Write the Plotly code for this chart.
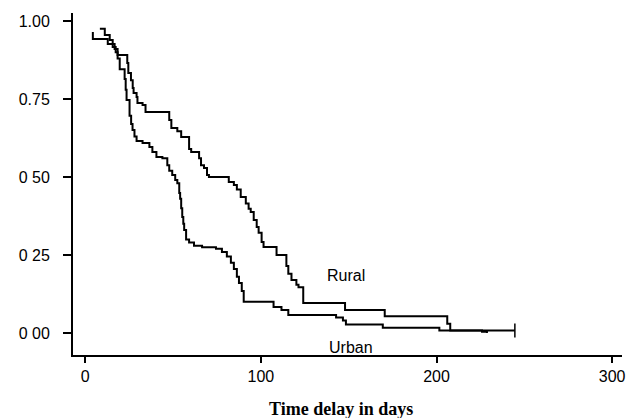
import plotly.graph_objects as go

# Kaplan-Meier style step data (time in days, proportion)
rural_t = [4.3, 4.3, 12.8, 16.7, 18.4, 23.9, 24.5, 26.0, 27.0, 27.5, 29.2, 29.7, 32.6, 34.3,
           47.8, 49.0, 52.4, 54.6, 59.1, 60.3, 64.8, 65.9, 67.6, 69.3, 70.4, 81.7, 84.6,
           86.3, 88.5, 91.4, 93.0, 94.2, 95.9, 97.6, 98.7, 100.4, 101.5, 108.9, 114.5,
           115.6, 117.4, 120.2, 121.4, 124.1, 147.9, 170.5, 206.1, 207.8, 244.6]
rural_s = [0.965, 0.942, 0.926, 0.910, 0.891, 0.865, 0.833, 0.81, 0.785, 0.769, 0.756, 0.737,
           0.731, 0.708, 0.683, 0.657, 0.647, 0.628, 0.59, 0.58, 0.56, 0.538, 0.529, 0.506,
           0.5, 0.484, 0.474, 0.46, 0.436, 0.415, 0.398, 0.388, 0.362, 0.34, 0.321, 0.292,
           0.276, 0.25, 0.215, 0.19, 0.17, 0.155, 0.147, 0.096, 0.074, 0.054, 0.03, 0.008, 0.008]

urban_t = [8.3, 11.1, 13.9, 15.6, 17.3, 18.4, 19.6, 22.4, 23.0, 23.5, 25.2, 26.1, 26.9, 28.0,
           29.2, 32.6, 36.5, 38.2, 40.5, 43.9, 46.7, 47.8, 49.5, 51.2, 52.4, 53.5, 54.0, 54.6,
           55.2, 55.8, 56.3, 57.4, 59.1, 61.9, 66.5, 74.4, 77.8, 80.6, 82.9, 84.6, 86.3, 87.5,
           89.1, 90.2, 107.2, 111.7, 115.6, 142.8, 146.7, 148.4, 169.4, 201.6, 225.9, 228.7]
urban_s = [0.975, 0.955, 0.939, 0.917, 0.9, 0.88, 0.845, 0.814, 0.78, 0.747, 0.696, 0.67,
           0.651, 0.63, 0.615, 0.609, 0.596, 0.58, 0.564, 0.56, 0.538, 0.52, 0.506, 0.49,
           0.48, 0.449, 0.43, 0.40, 0.372, 0.35, 0.33, 0.30, 0.29, 0.28, 0.275, 0.27, 0.26,
           0.245, 0.225, 0.205, 0.18, 0.16, 0.135, 0.10, 0.083, 0.074, 0.058, 0.05, 0.04,
           0.027, 0.017, 0.008, 0.004, 0.0]

x_ticks = [0, 100, 200, 300]
y_ticks = [0, 0.25, 0.5, 0.75, 1.0]
y_ticktext = ["0 00", "0 25", "0 50", "0.75", "1.00"]

series_labels = ["Rural", "Urban"]
label_pos_x = [148.4, 151.2]
label_pos_y = [0.183, -0.045]

fig = go.Figure()
fig.add_trace(go.Scatter(x=rural_t, y=rural_s, mode="lines", line_shape="hv",
                         line=dict(color="black", width=2), name="Rural", showlegend=False))
fig.add_trace(go.Scatter(x=urban_t, y=urban_s, mode="lines", line_shape="hv",
                         line=dict(color="black", width=2), name="Urban", showlegend=False))
# censoring tick at the end of the rural curve
fig.add_trace(go.Scatter(x=rural_t[-1:], y=rural_s[-1:], mode="markers",
                         marker=dict(symbol="line-ns", size=10,
                                     line=dict(color="black", width=1.5)),
                         showlegend=False, hoverinfo="skip"))

for lab, lx, ly in zip(series_labels, label_pos_x, label_pos_y):
    fig.add_annotation(x=lx, y=ly, text=lab, showarrow=False,
                       font=dict(family="Liberation Sans, Arial", size=16, color="black"))

fig.add_annotation(xref="paper", yref="paper", x=0.488, y=-0.158, yanchor="middle",
                   text="<b>Time delay in days</b>", showarrow=False,
                   font=dict(family="Liberation Serif, Times New Roman", size=18, color="black"))

fig.update_layout(
    width=626, height=418,
    margin=dict(l=73, r=0, t=13, b=63),
    paper_bgcolor="white", plot_bgcolor="white",
    font=dict(family="Liberation Sans, Arial", size=16, color="black"),
    xaxis=dict(range=[-7.0, 305.6], tickvals=x_ticks, showgrid=False, zeroline=False,
               showline=True, linecolor="black", linewidth=1.5,
               ticks="outside", ticklen=6, tickwidth=1.5, tickcolor="black",
               ticklabelstandoff=0, ticklabeloverflow="allow", tickfont=dict(size=16)),
    yaxis=dict(range=[-0.0705, 1.0256], tickvals=y_ticks, ticktext=y_ticktext,
               showgrid=False, zeroline=False,
               showline=True, linecolor="black", linewidth=2,
               ticks="outside", ticklen=8, tickwidth=1.5, tickcolor="black",
               ticklabelstandoff=10, tickfont=dict(size=16)),
)

fig.write_html("out.html", config={"displayModeBar": False},
               post_script="document.body.style.margin='0';document.body.style.overflow='hidden';")
